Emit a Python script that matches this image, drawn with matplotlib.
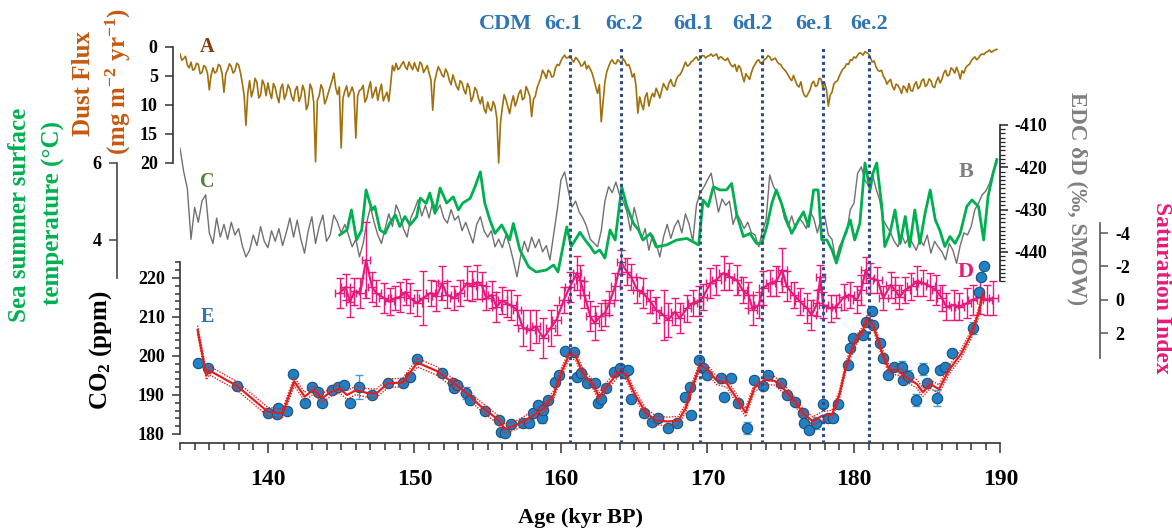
import numpy as np
import matplotlib
matplotlib.use("Agg")
import matplotlib.pyplot as plt
from matplotlib.ticker import MultipleLocator, FixedLocator

plt.rcParams['font.family'] = ['Liberation Serif', 'DejaVu Serif']
plt.rcParams['font.weight'] = 'bold'
plt.rcParams['axes.unicode_minus'] = False
plt.rcParams['mathtext.fontset'] = 'custom'
plt.rcParams['mathtext.rm'] = 'Liberation Serif:bold'
plt.rcParams['mathtext.it'] = 'Liberation Serif:bold:italic'
plt.rcParams['mathtext.bf'] = 'Liberation Serif:bold'
plt.rcParams['mathtext.default'] = 'rm'

# ---------------- DATA ----------------
# A: dust flux (mg m-2 yr-1): samples every 0.25 kyr from 134.0 kyr ...
dust_start, dust_step = 134.0, 0.25
dust = [
    1.2, 2.0, 3.1, 2.6,   3.8, 3.0, 4.4, 3.5,   7.4, 3.6, 4.2, 3.3,   7.8, 3.9, 3.4, 4.1,
    3.1, 6.2, 13.5, 5.8,  7.4, 6.1, 8.3, 6.5,   6.2, 8.9, 7.0, 9.6,   6.4, 8.1, 7.2, 9.3,
    6.8, 8.5, 7.6, 9.9,   7.2, 19.8, 8.4, 7.3,  9.0, 6.8, 4.5, 8.2,   17.4, 7.6, 8.6, 6.9,
    15.7, 7.5, 6.6, 8.8,  6.0, 7.9, 9.2, 6.4,   8.5, 9.4, 3.2, 2.8,   3.6, 2.5, 3.9, 3.3,
    2.7, 4.2, 3.0, 3.8,   4.5, 10.9, 4.6, 4.0,  5.2, 4.4, 6.5, 5.8,   7.4, 6.2, 8.1, 7.0,
    8.6, 7.5, 9.8, 10.6,  9.5, 11.0, 10.2, 20.0, 10.4, 9.1, 11.5, 8.4, 9.3, 7.4, 8.8, 7.6,
    12.0, 8.5, 6.2, 4.0,  5.4, 4.3, 5.0, 3.0,   2.4, 1.4, 1.8, 2.2,   1.8, 2.6, 3.1, 3.8,
    3.8, 5.6, 8.0, 12.9,  6.0, 3.4, 2.2, 2.9,   2.5, 2.0, 3.2, 3.9,   4.6, 11.4, 9.9, 8.6,
    10.2, 8.0, 7.1, 8.8,  6.3, 7.4, 5.6, 6.8,   5.0, 4.2, 2.6, 3.1,   2.4, 1.7, 2.0, 1.5,
    1.6, 1.2, 1.4, 2.1,   1.8, 2.3, 2.6, 3.4,   4.2, 3.6, 6.0, 5.1,   4.4, 3.0, 2.2, 2.7,
    2.0, 1.7, 2.1, 2.5,   3.0, 3.9, 4.8, 5.8,   5.8, 6.9, 7.6, 8.6,   7.4, 5.9, 6.6, 5.5,
    6.2, 10.2, 7.8, 6.0,  5.0, 3.8, 2.9, 2.2,   1.7, 1.4, 1.1, 0.8,   1.2, 2.6, 3.4, 4.2,
    5.0, 6.4, 5.6, 7.4,   6.6, 8.0, 7.1, 6.3,   7.6, 6.0, 6.8, 5.5,   6.5, 5.8, 7.0, 5.2,
    5.6, 4.0, 4.8, 3.9,   3.5, 5.5, 4.5, 3.2,   2.4, 1.7, 1.9, 1.2,   0.9, 0.5, 0.7, 0.4,
]
# ... and the samples lying half-way between them (134.125, 134.375, ...)
dust_mid = [
    2.3, 1.6, 3.6, 4.0,   2.8, 4.6, 3.2, 4.5,   4.8, 4.5, 3.0, 4.6,   4.6, 2.9, 4.5, 2.8,
    4.4, 8.3, 8.0, 8.6,   5.4, 8.8, 5.7, 8.4,   7.8, 6.3, 8.5, 7.1,   9.0, 6.5, 8.6, 7.4,
    9.4, 6.6, 10.8, 6.4,  9.5, 9.2, 6.5, 9.8,   7.9, 5.8, 7.0, 6.9,   8.8, 6.7, 7.8, 8.0,
    8.4, 7.3, 9.5, 7.2,   8.8, 6.9, 7.6, 9.3,   7.8, 6.5, 4.1, 3.9,   3.0, 3.4, 2.6, 3.9,
    3.6, 2.6, 4.4, 3.2,   5.6, 6.0, 3.4, 4.8,   3.8, 5.7, 4.8, 6.8,   5.8, 7.4, 6.3, 9.4,
    7.0, 8.9, 8.6, 11.4,  10.6, 9.4, 12.3, 13.0, 8.2, 10.3, 9.6, 10.2, 8.0, 9.1, 6.8, 8.5,
    9.0, 7.0, 5.3, 4.6,   4.0, 5.2, 3.6, 3.2,   1.8, 1.9, 1.5, 2.6,   2.1, 3.3, 2.5, 3.2,
    4.5, 6.9, 6.5, 9.4,   4.3, 2.6, 2.8, 2.2,   2.9, 2.5, 3.0, 5.2,   6.8, 8.6, 10.8, 7.9,
    8.9, 8.6, 7.9, 7.5,   6.9, 6.2, 6.6, 5.6,   4.8, 3.4, 3.3, 2.6,   2.0, 2.3, 1.5, 1.9,
    1.5, 1.6, 1.2, 1.7,   2.2, 1.9, 3.2, 3.0,   3.2, 4.9, 4.6, 5.6,   3.5, 2.4, 2.8, 2.2,
    1.5, 2.3, 1.9, 2.9,   3.6, 4.3, 5.4, 4.9,   6.6, 6.0, 8.4, 8.0,   6.3, 6.8, 5.4, 7.0,
    7.4, 8.3, 6.4, 5.8,   4.3, 3.5, 3.0, 2.3,   1.9, 1.0, 1.4, 1.0,   1.9, 2.4, 4.0, 4.0,
    5.5, 5.9, 6.8, 6.4,   7.2, 6.7, 7.8, 7.5,   6.5, 7.2, 5.8, 6.8,   5.5, 6.8, 5.9, 6.2,
    4.5, 5.0, 3.6, 4.5,   4.3, 4.1, 3.6, 3.0,   2.0, 2.2, 1.4, 1.3,   0.8, 0.9, 0.5, 0.6,
]

# B: EDC deltaD (permil), sampled every 0.25 kyr from 134 kyr
dD_start, dD_step = 134.0, 0.25
dD = [
    -415.5, -421.0, -425.0, -437.0, -429.5, -433.0, -428.0, -426.5,
    -435.5, -438.0, -432.0, -436.5, -433.5, -437.0, -433.0, -436.0,
    -434.5, -438.5, -441.2, -439.6, -436.0, -438.5, -434.0, -437.5,
    -439.0, -435.0, -437.5, -434.5, -438.5, -435.5, -432.0, -436.5,
    -432.5, -437.0, -440.3, -435.0, -431.7, -438.0, -434.0, -431.3,
    -437.5, -436.0, -431.3, -433.0, -435.5, -433.5, -436.0, -438.8,
    -437.0, -441.2, -438.0, -433.0, -429.4, -433.0, -436.0, -438.0,
    -434.5, -431.0, -434.0, -428.9, -431.0, -434.5, -436.5, -432.0,
    -430.0, -427.7, -431.5, -429.0, -432.0, -428.0, -430.5, -428.9,
    -432.0, -433.2, -430.0, -432.5, -431.5, -435.0, -433.0, -435.5,
    -437.9, -433.5, -431.7, -435.0, -436.5, -435.0, -438.8, -437.0,
    -439.0, -436.0, -438.5, -442.0, -445.9, -441.0, -437.5, -440.0,
    -436.5, -439.0, -437.0, -440.0, -438.5, -441.9, -436.0, -430.0,
    -423.0, -421.1, -425.5, -429.4, -428.0, -430.6, -432.0, -434.0,
    -437.0, -437.9, -438.8, -435.0, -428.0, -424.6, -426.0, -423.5,
    -426.5, -428.0, -430.5, -435.0, -429.5, -433.0, -437.0, -434.5,
    -439.6, -436.0, -438.0, -441.2, -436.5, -433.5, -436.8, -434.0,
    -432.5, -435.5, -431.0, -433.5, -437.5, -428.9, -426.0, -424.7,
    -423.0, -421.4, -426.0, -430.6, -427.5, -429.0, -428.0, -433.5,
    -431.0, -432.5, -434.5, -433.0, -435.5, -436.0, -438.8, -435.0,
    -432.5, -421.8, -424.5, -426.0, -427.7, -432.0, -434.0, -431.5,
    -434.5, -432.0, -433.0, -434.5, -430.5, -432.0, -435.5, -432.0,
    -431.5, -436.0, -437.0, -441.9, -438.8, -437.0, -435.5, -430.0,
    -428.5, -421.4, -419.9, -423.0, -424.5, -421.4, -425.0, -427.7,
    -432.5, -434.0, -435.5, -437.5, -438.8, -436.0, -438.0, -436.5,
    -438.0, -439.6, -437.0, -438.5, -436.0, -440.3, -437.5, -438.8,
    -440.0, -441.9, -438.0, -439.6, -442.7, -438.5, -435.5, -436.0,
    -434.0, -430.0, -428.5, -426.5, -425.6, -423.8, -421.0, -419.0,
]

# C: sea summer surface temperature (degC)
sst_age = [144.9, 145.4, 145.7, 146.05, 146.4, 146.7, 147.1, 147.3, 147.65, 148.0,
           148.3, 148.7, 149.0, 149.35, 149.7, 150.15, 150.4, 150.8, 151.05, 151.4,
           151.75, 152.2, 152.65, 153.0, 153.3, 153.8, 154.1, 154.5, 154.8, 155.15,
           155.5, 155.95, 156.5, 156.75, 157.2, 157.8, 158.3, 159.0, 159.5, 159.8,
           160.4, 160.7, 161.3, 161.65, 162.0, 162.3, 162.65, 163.0, 163.35, 163.7,
           164.15, 164.5, 164.95, 165.3, 165.6, 166.1, 166.5, 167.2, 167.9, 168.6,
           169.4, 169.7, 170.05, 170.4, 170.85, 171.3, 171.65, 172.0, 172.45, 172.9,
           173.35, 173.7, 174.05, 174.4, 174.7, 175.05, 175.4, 175.75, 176.1, 176.55,
           176.9, 177.25, 177.55, 177.8, 178.15, 178.5, 178.8, 179.25, 179.75, 180.05,
           180.4, 180.75, 181.1, 181.3, 181.55, 181.9, 182.1, 182.45, 182.8, 183.15,
           183.5, 183.8, 184.15, 184.5, 184.85, 185.2, 185.55, 185.85, 186.2, 186.55,
           186.9, 187.25, 187.7, 188.05, 188.5, 188.85, 189.15, 189.5, 189.75]
sst = [4.13, 4.26, 4.78, 4.0, 4.26, 5.3, 4.78, 4.87, 4.26, 4.17,
       4.43, 4.65, 4.35, 4.61, 4.39, 4.6, 5.09, 4.95, 5.22, 4.69,
       5.35, 4.96, 5.12, 4.78, 4.96, 5.08, 5.35, 5.77, 4.96, 4.52,
       4.17, 4.39, 4.0, 4.43, 3.74, 3.3, 3.17, 3.22, 3.35, 3.17,
       4.34, 3.83, 4.2, 4.0, 3.83, 3.66, 3.74, 3.53, 4.26, 4.0,
       5.38, 4.87, 4.43, 4.26, 4.0, 4.17, 3.82, 3.87, 4.0, 4.04,
       3.87, 5.04, 4.87, 5.38, 5.3, 5.3, 5.47, 4.65, 4.09, 4.17,
       3.91, 3.91, 4.35, 4.96, 5.3, 4.95, 4.52, 4.17, 4.43, 4.73,
       4.35, 5.3, 5.3, 4.0, 4.0, 3.74, 3.4, 4.0, 4.52, 4.0,
       4.43, 6.0, 5.3, 5.74, 6.0, 4.87, 3.83, 4.17, 4.78, 3.91,
       4.61, 3.83, 4.78, 3.91, 4.69, 5.3, 4.52, 4.26, 3.83, 4.09,
       3.91, 4.17, 4.87, 5.04, 4.87, 4.0, 5.13, 5.74, 6.09]

# D: saturation index with errors
si_age = [144.9, 145.3, 145.6, 145.9, 146.3, 146.7, 147.1, 147.4, 147.9, 148.3,
          148.7, 149.0, 149.4, 149.7, 150.2, 150.6, 151.1, 151.5, 151.9, 152.2,
          152.7, 153.1, 153.6, 153.9, 154.3, 154.6, 154.9, 155.3, 155.6, 156.0,
          156.3, 156.6, 157.0, 157.4, 157.9, 158.3, 158.8, 159.3, 159.7, 160.2,
          160.6, 161.1, 161.3, 161.6, 162.0, 162.3, 162.7, 163.0, 163.3, 163.7,
          164.1, 164.5, 164.8, 165.2, 165.6, 166.1, 166.5, 167.0, 167.3, 167.8,
          168.1, 168.6, 169.0, 169.4, 169.7, 170.2, 170.6, 171.1, 171.5, 172.0,
          172.4, 172.8, 173.1, 173.5, 173.8, 174.3, 174.7, 175.1, 175.4, 175.9,
          176.3, 176.8, 177.1, 177.5, 177.7, 177.9, 178.4, 178.8, 179.3, 179.7,
          180.2, 180.5, 180.8, 181.1, 181.6, 182.0, 182.5, 182.8, 183.1, 183.5,
          183.9, 184.3, 184.7, 185.2, 185.6, 186.0, 186.3, 186.8, 187.2, 187.7,
          188.1, 188.6, 189.1, 189.5]
si = [-0.4, -0.76, 0.14, -0.5, -0.4, -2.38, -0.76, -0.4, -0.1, 0.1,
      -0.1, -0.16, -0.46, -0.1, 0.2, -0.1, -0.4, -0.2, -1.0, -0.3,
      -0.1, -0.4, -1.0, -0.8, -1.06, -0.86, -0.1, -0.3, 0.44, 0.04,
      0.24, 0.34, 0.62, 1.7, 1.8, 1.6, 2.3, 1.7, 1.2, 0.02,
      -0.76, -1.6, -1.2, -0.3, 1.0, 1.4, 1.0, 0.8, 0.2, -0.8,
      -2.26, -1.68, -1.36, -0.58, -0.4, 0.1, 0.62, 0.92, 1.22, 0.72,
      1.12, 0.52, 0.2, 0.1, -0.16, -1.0, -1.18, -1.6, -1.38, -1.18,
      -0.58, -0.28, 0.62, 0.32, -0.7, -1.0, -1.1, -1.78, -0.8, -0.28,
      0.1, 0.52, 0.92, 0.2, -1.36, 0.32, 0.52, 0.42, -0.16, -0.28,
      0.0, -0.58, -1.78, -1.28, -1.18, -0.1, -0.88, -0.58, -0.16, -0.58,
      -0.8, -1.1, -1.0, -0.8, -0.58, -0.1, 0.42, 0.32, 0.42, 0.22,
      0.0, -0.16, 0.0, -0.1]
si_err = [0.9, 0.8, 0.9, 0.8, 0.9, 2.3, 0.9, 0.8, 0.9, 0.8,
          0.7, 0.9, 0.8, 0.9, 0.8, 1.6, 0.8, 0.9, 1.0, 0.8,
          0.7, 0.8, 1.0, 0.9, 1.0, 0.8, 0.7, 0.8, 0.9, 0.8,
          0.8, 0.9, 0.9, 1.1, 1.2, 1.0, 1.2, 1.1, 0.9, 0.8,
          0.9, 1.0, 0.9, 0.8, 0.9, 1.0, 0.8, 0.8, 0.7, 0.8,
          0.7, 0.8, 0.8, 0.8, 0.9, 0.7, 0.8, 1.5, 1.0, 0.8,
          0.9, 0.8, 0.8, 0.9, 0.8, 0.9, 0.9, 1.0, 0.8, 0.9,
          0.8, 0.8, 0.9, 0.8, 1.0, 0.8, 0.9, 1.3, 0.9, 0.8,
          0.8, 0.9, 0.9, 0.8, 0.7, 0.8, 0.8, 0.7, 0.8, 0.8,
          0.8, 0.9, 0.8, 0.9, 0.8, 0.7, 0.8, 0.8, 0.7, 0.8,
          0.8, 0.9, 0.8, 0.8, 0.9, 0.8, 0.8, 0.9, 0.8, 0.9,
          0.9, 1.0, 0.9, 1.0]
si_age_err = 0.3

# E: CO2 (ppm) measurements
co2_age = [135.2, 135.9, 137.9, 140.0, 140.6, 140.7, 141.3, 141.7, 142.5, 143.0,
           143.4, 143.7, 144.4, 144.8, 145.2, 145.6, 146.2, 147.1, 148.2, 149.2,
           149.7, 150.2, 151.9, 152.6, 152.7, 152.9, 153.5, 153.8, 154.8, 155.8,
           155.9, 156.2, 156.6, 157.4, 157.8, 158.1, 158.4, 158.7, 158.8, 159.1,
           159.6, 159.9, 160.3, 160.9, 161.1, 161.4, 161.8, 162.3, 162.5, 162.7,
           163.1, 163.6, 164.0, 164.3, 164.6, 164.8, 165.7, 166.2, 166.6, 167.3,
           167.9, 168.5, 168.8, 168.9, 169.4, 169.7, 170.0, 170.9, 171.1, 171.6,
           172.1, 172.7, 173.2, 173.8, 174.1, 175.0, 175.4, 176.0, 176.5, 176.6,
           176.9, 177.4, 177.9, 178.2, 178.6, 178.9, 179.6, 179.7, 179.9, 180.6,
           180.8, 181.2, 181.3, 181.8, 182.0, 182.3, 182.7, 183.3, 183.35, 183.7,
           184.2, 184.7, 184.95, 185.7, 185.9, 186.2, 186.7, 188.1, 188.5, 188.7,
           188.9]
co2 = [198.2, 196.9, 192.3, 185.4, 185.0, 186.7, 186.0, 195.4, 188.0, 192.0,
       190.8, 188.0, 191.3, 192.0, 192.6, 188.0, 192.0, 190.0, 193.1, 193.1,
       194.6, 199.2, 195.6, 193.0, 191.8, 192.6, 190.5, 188.7, 185.9, 183.6,
       180.6, 180.2, 182.5, 182.9, 182.7, 185.4, 187.4, 184.0, 186.1, 188.7,
       193.3, 195.0, 201.3, 201.0, 194.6, 195.6, 193.0, 193.0, 187.9, 189.0,
       191.8, 195.9, 196.9, 195.6, 196.4, 189.0, 185.4, 183.1, 184.0, 181.6,
       182.8, 189.6, 192.0, 184.9, 199.0, 196.9, 195.0, 194.3, 189.6, 194.3,
       187.9, 181.6, 193.8, 192.3, 195.0, 193.0, 190.1, 188.2, 185.4, 182.8,
       181.0, 182.8, 187.7, 184.0, 184.0, 187.7, 197.7, 202.0, 204.6, 205.4,
       208.7, 211.5, 207.9, 203.3, 199.5, 195.1, 197.2, 197.2, 193.8, 194.9,
       188.7, 196.7, 193.0, 189.2, 196.4, 197.2, 200.7, 207.2, 216.4, 220.2,
       223.0]
co2_err = [0.8, 0.8, 1.0, 0.8, 0.8, 0.8, 0.8, 0.8, 0.8, 0.8,
           0.8, 0.8, 0.8, 0.8, 0.8, 0.8, 3.0, 0.8, 0.8, 0.8,
           0.8, 0.8, 0.8, 0.8, 0.8, 0.8, 1.6, 0.8, 0.8, 0.8,
           0.8, 0.8, 0.8, 0.8, 0.8, 0.8, 0.8, 1.2, 0.8, 0.8,
           0.8, 0.8, 0.8, 0.8, 0.8, 0.8, 0.8, 0.8, 0.8, 0.8,
           0.8, 0.8, 0.8, 0.8, 0.8, 0.8, 0.8, 0.8, 0.8, 0.8,
           0.8, 0.8, 0.8, 0.8, 0.8, 0.8, 0.8, 1.2, 0.8, 0.8,
           0.8, 1.5, 0.8, 0.8, 0.8, 0.8, 0.8, 0.8, 0.8, 0.8,
           0.8, 1.6, 0.8, 0.8, 0.8, 0.8, 0.8, 0.8, 0.8, 0.8,
           0.8, 0.8, 0.8, 0.8, 0.8, 0.8, 0.8, 1.5, 0.8, 1.5,
           1.5, 1.5, 0.8, 2.0, 0.8, 0.8, 0.8, 1.5, 0.8, 0.8,
           0.8]

# E: CO2 spline fit and its uncertainty
co2_fit_age = [135.2, 135.8, 136.0, 137.9, 140.0, 141.0, 141.8, 142.5, 143.1, 143.7,
               144.3, 144.9, 145.4, 146.0, 146.8, 147.4, 148.2, 149.2, 150.2, 151.5,
               152.5, 153.5, 154.5, 155.6, 156.2, 157.0, 158.0, 158.8, 159.5, 160.0,
               160.6, 161.0, 161.5, 162.2, 162.6, 163.2, 163.9, 164.4, 165.0, 165.8,
               166.5, 167.3, 168.0, 168.5, 169.0, 169.5, 170.0, 170.6, 171.3, 171.9,
               172.6, 173.2, 173.9, 174.6, 175.3, 176.0, 176.6, 177.2, 177.8, 178.5,
               179.0, 179.5, 180.1, 180.6, 180.9, 181.3, 181.9, 182.4, 183.0, 183.7,
               184.3, 184.7, 185.2, 185.8, 186.5, 187.3, 188.0, 188.5, 188.8]
co2_fit = [206.7, 195.0, 196.3, 192.3, 185.7, 185.3, 193.5, 189.6, 191.3, 189.2,
           190.8, 191.6, 190.0, 191.2, 190.5, 190.4, 193.0, 193.2, 198.3, 196.2,
           193.5, 190.7, 187.2, 184.0, 181.3, 182.4, 184.5, 186.5, 190.0, 195.5,
           200.7, 200.0, 195.6, 192.6, 189.5, 192.5, 195.8, 195.3, 190.5, 185.4,
           183.5, 183.2, 183.4, 186.5, 192.5, 197.7, 196.6, 193.8, 193.1, 189.6,
           185.5, 191.8, 193.9, 193.6, 191.2, 188.2, 185.0, 183.3, 184.6, 185.0,
           190.0, 198.0, 203.8, 206.5, 209.5, 208.0, 201.0, 196.5, 196.2, 194.2,
           192.8, 190.7, 192.8, 191.5, 196.5, 200.5, 205.5, 211.0, 216.0]
co2_fit_unc = 1.1

# Cold Dust Minima events
cdm_age = [160.6, 164.1, 169.5, 173.7, 177.9, 181.0]
cdm_names = ['6c.1', '6c.2', '6d.1', '6d.2', '6e.1', '6e.2']

# ---------------- FIGURE ----------------
W, H = 1172, 531
fig = plt.figure(figsize=(W / 100, H / 100), dpi=100)
rect = [180 / W, 88 / H, 820.5 / W, 423 / H]

C_DUST = '#a0700c'
C_DUSTLAB = '#c55a11'
C_GRAY = '#707070'
C_GREEN = '#00b050'
C_PINK = '#e8197a'
C_BLUE = '#2e75b6'
C_RED = '#e0201e'
C_NAVY = '#2f4b8c'
PX = 0.72  # points per pixel


def make_ax(ylim, name):
    ax = fig.add_axes(rect, label=name)
    ax.set_xlim(134, 190)
    ax.set_ylim(*ylim)
    ax.patch.set_visible(False)
    for s in ax.spines.values():
        s.set_visible(False)
    ax.tick_params(which='both', bottom=False, labelbottom=False, top=False,
                   left=False, labelleft=False, right=False, labelright=False)
    return ax


def yaxis_style(ax, side, outward_px, bounds, majors, minors, color, labsize=13):
    sp = ax.spines[side]
    sp.set_visible(True)
    sp.set_position(('outward', outward_px * PX))
    sp.set_bounds(*bounds)
    sp.set_color(color)
    sp.set_linewidth(1.2)
    ax.yaxis.set_major_locator(FixedLocator(majors))
    ax.yaxis.set_minor_locator(FixedLocator(minors))
    kw = {side: True, 'label' + side: True}
    ax.tick_params(axis='y', which='both', direction='out', color=color, width=1.1, **kw)
    ax.tick_params(axis='y', which='major', length=6, labelsize=labsize, pad=5)
    ax.tick_params(axis='y', which='minor', length=3.5)


# A: dust flux (inverted)
ax_dust = make_ax((68.28, -4.655), 'dust')
n = len(dust)
dust_age_all = dust_start + 0.5 * dust_step * np.arange(2 * n)
dust_all = np.empty(2 * n)
dust_all[0::2] = dust
dust_all[1::2] = dust_mid
ax_dust.plot(dust_age_all[:-1], dust_all[:-1], color=C_DUST, lw=1.2)
yaxis_style(ax_dust, 'left', 7, (0, 20), [0, 5, 10, 15, 20], [], '#333333')

# B: deltaD
ax_dd = make_ax((-485.18, -385.18), 'dD')
dD_age = dD_start + dD_step * np.arange(len(dD))
ax_dd.plot(dD_age, dD, color=C_GRAY, lw=1.0)
yaxis_style(ax_dd, 'right', -1, (-447, -410), [-440, -430, -420, -410],
            list(range(-447, -409)), '#222222')
ax_dd.tick_params(axis='y', which='minor', length=3.5, width=0.9)

# C: SST
ax_sst = make_ax((-1.273, 9.714), 'sst')
ax_sst.plot(sst_age, sst, color=C_GREEN, lw=2.0)
yaxis_style(ax_sst, 'left', 63, (3, 6), [4, 6], [], '#444444')

# D: saturation index (inverted)
ax_si = make_ax((8.60, -16.78), 'si')
ax_si.errorbar(si_age, si, yerr=si_err, xerr=si_age_err, color=C_PINK, lw=1.6,
               elinewidth=1.0, capsize=3.2, capthick=1.0)
yaxis_style(ax_si, 'right', 99.5, (-4.6, 3.5), [-4, -2, 0, 2], [], '#555555')

# E: CO2
ax_co2 = make_ax((177.69, 286.15), 'co2')
ax_co2.errorbar(co2_age, co2, yerr=co2_err, fmt='none', ecolor='#3fa0d8',
                elinewidth=1.0, capsize=3, capthick=1.0, zorder=2)
ax_co2.plot(co2_age, co2, 'o', ms=7.5, mfc='#1f82c8', mec='#1a4f7a', mew=0.8, zorder=3)
fa = np.array(co2_fit_age)
fv = np.array(co2_fit)
ax_co2.plot(fa, fv + co2_fit_unc, color=C_RED, lw=1.0, ls=(0, (1, 1)), zorder=4)
ax_co2.plot(fa, fv - co2_fit_unc, color=C_RED, lw=1.0, ls=(0, (1, 1)), zorder=4)
ax_co2.plot(fa, fv, color=C_RED, lw=1.6, zorder=5)
yaxis_style(ax_co2, 'left', 0, (180, 224), [180, 190, 200, 210, 220],
            list(range(180, 225, 2)), '#333333')

# x axis
sp = ax_co2.spines['bottom']
sp.set_visible(True)
sp.set_bounds(134, 190)
sp.set_color('#333333')
sp.set_linewidth(1.2)
ax_co2.xaxis.set_major_locator(MultipleLocator(10))
ax_co2.xaxis.set_minor_locator(MultipleLocator(1))
ax_co2.tick_params(axis='x', which='both', bottom=True, labelbottom=True,
                   direction='out', color='#333333', width=1.1)
ax_co2.tick_params(axis='x', which='major', length=7, labelsize=17, pad=12)
ax_co2.tick_params(axis='x', which='minor', length=5)

# CDM dotted lines
trans = ax_co2.get_xaxis_transform()
for a in cdm_age:
    ax_co2.plot([a, a], [0, (443 - 47) / 423], transform=trans, color=C_NAVY,
                lw=2.2, ls=(0, (1, 1.1)), zorder=6)


def ftext(px, py, s, **kw):
    fig.text(px / W, 1 - py / H, s, ha='center', va='center', **kw)


# top labels
ftext(506, 24, 'CDM', color=C_BLUE, fontsize=16)
for px, name in zip([563, 624, 693, 752, 814, 869], cdm_names):
    ftext(px, 24, name, color=C_BLUE, fontsize=16)

# panel letters
ftext(207, 47, 'A', color='#843c0c', fontsize=14.5)
ftext(207, 182, 'C', color='#548235', fontsize=14.5)
ftext(966, 172, 'B', color='#808080', fontsize=16)
ftext(966, 272, 'D', color=C_PINK, fontsize=16)
ftext(207, 317, 'E', color=C_BLUE, fontsize=14.5)

# axis titles
ftext(84, 84, 'Dust Flux', color=C_DUSTLAB, fontsize=18, rotation=90)
ftext(118, 82, r'(mg m$^{-2}$ yr$^{-1}$)', color=C_DUSTLAB, fontsize=18, rotation=90)
ftext(20, 215, 'Sea summer surface', color=C_GREEN, fontsize=18, rotation=90)
ftext(53, 213, 'temperature (\u00b0C)', color=C_GREEN, fontsize=18, rotation=90)
ftext(101, 350, r'CO$_{2}$ (ppm)', color='black', fontsize=18, rotation=90)
ftext(1077, 199, 'EDC \u03b4D (\u2030, SMOW)', color='#808080', fontsize=16.5, rotation=270)
ftext(1161, 288, 'Saturation Index', color=C_PINK, fontsize=17, rotation=270)
ftext(580, 518, 'Age (kyr BP)', color='black', fontsize=16)

fig.savefig('out.png', dpi=100)
